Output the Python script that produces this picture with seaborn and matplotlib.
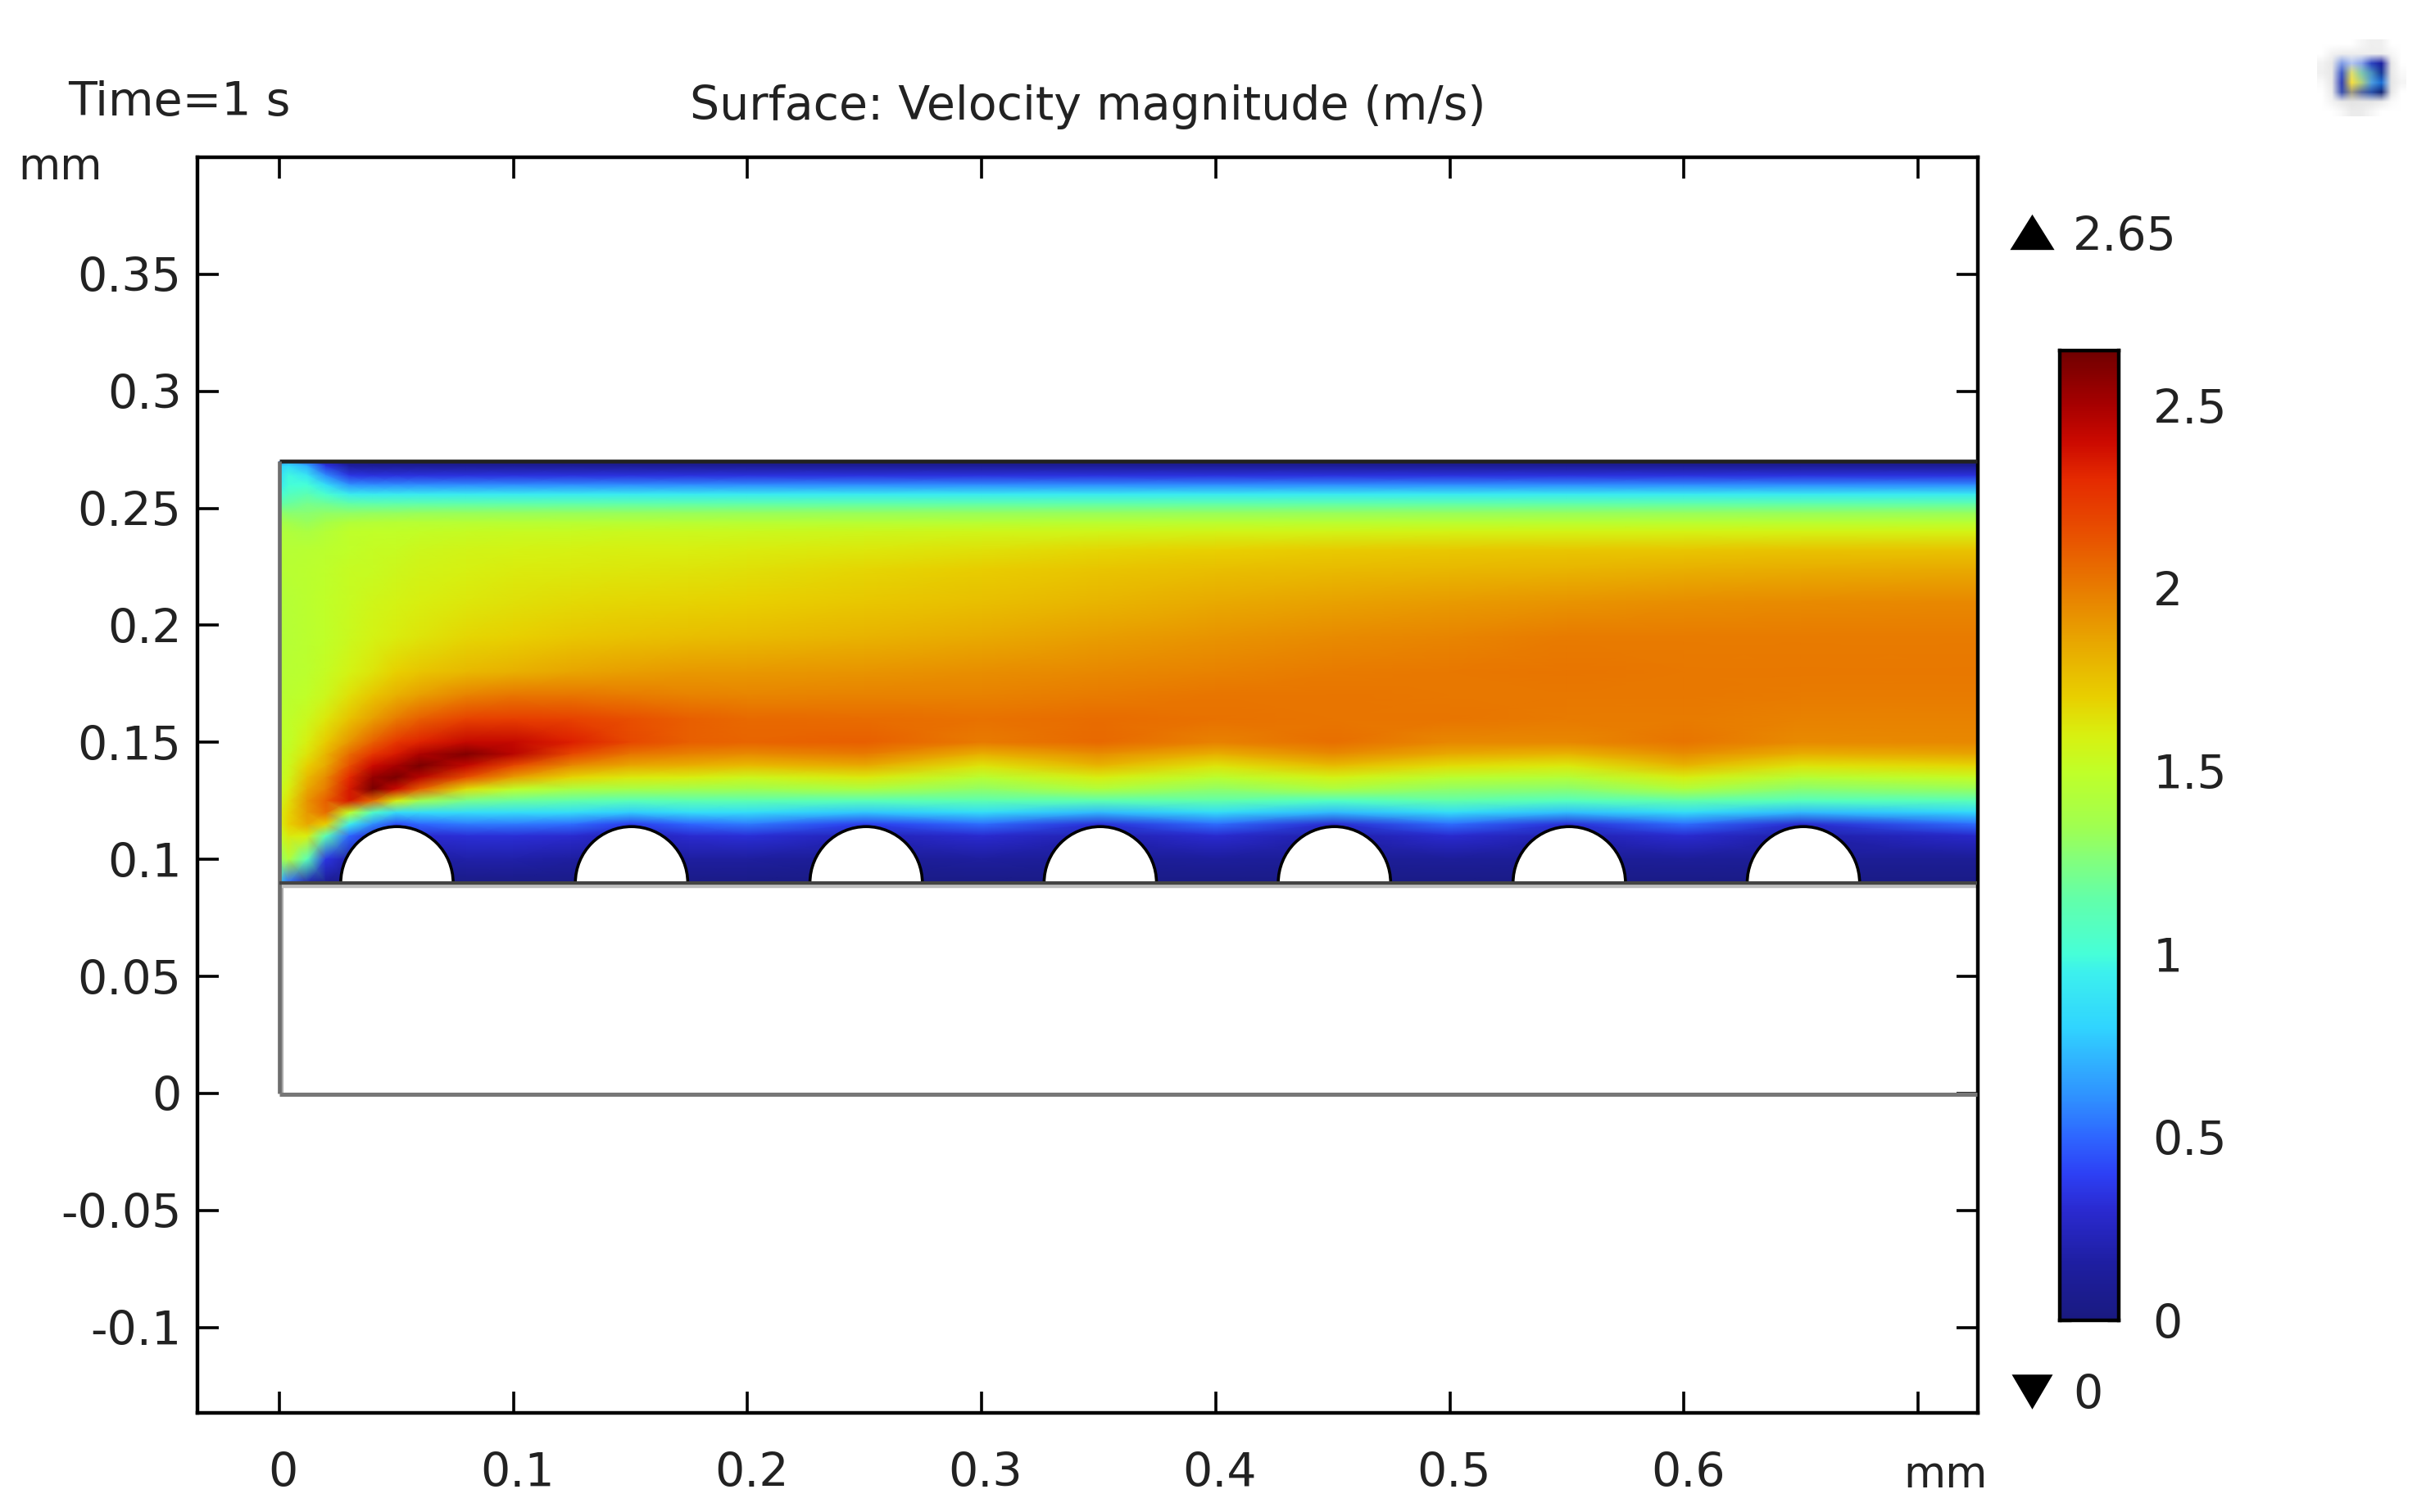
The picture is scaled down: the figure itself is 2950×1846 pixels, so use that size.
import numpy as np
import pandas as pd
import seaborn as sns
import matplotlib.pyplot as plt
from matplotlib.colors import LinearSegmentedColormap, to_rgb
from matplotlib.lines import Line2D
from matplotlib.patches import Wedge
from matplotlib.transforms import ScaledTranslation

W, H = 2950, 1846

# values
x_nodes = [0, .004, .012, .02, .03, .04, .05, .06, .08, .10, .125, .15, .175, .2,
           .25, .3, .35, .4, .45, .5, .55, .6, .65, .725]
y_nodes = [.27, .268, .264, .26, .256, .252, .248, .244, .24, .232, .224, .21, .195,
           .18, .17, .16, .15, .145, .14, .135, .13, .125, .12, .115, .11, .10, .09]
velocity = [
    [.55, .70, .50, .20, .05, .03, .03, .03, .03, .03, .03, .03, .03, .03, .03, .03, .03, .03, .03, .03, .03, .03, .03, .03],
    [.80, .85, .70, .35, .14, .12, .12, .12, .12, .12, .12, .12, .12, .12, .12, .12, .12, .12, .12, .12, .12, .12, .12, .12],
    [.85, .98, .90, .60, .36, .34, .34, .34, .34, .34, .34, .34, .34, .34, .34, .34, .34, .34, .34, .34, .34, .34, .34, .34],
    [.90, 1.0, 1.0, .85, .62, .60, .60, .60, .60, .60, .60, .60, .60, .60, .60, .60, .60, .60, .60, .60, .60, .60, .60, .60],
    [1.0, 1.08, 1.12, 1.02, .93, .92, .92, .92, .92, .92, .92, .92, .92, .92, .92, .92, .92, .92, .92, .92, .92, .92, .92, .92],
    [1.15, 1.18, 1.22, 1.20, 1.15, 1.14, 1.14, 1.14, 1.14, 1.14, 1.14, 1.14, 1.14, 1.14, 1.14, 1.14, 1.14, 1.14, 1.14, 1.14, 1.14, 1.14, 1.14, 1.14],
    [1.30, 1.28, 1.28, 1.30, 1.30, 1.31, 1.31, 1.32, 1.32, 1.32, 1.32, 1.32, 1.32, 1.32, 1.32, 1.32, 1.32, 1.32, 1.32, 1.32, 1.32, 1.32, 1.32, 1.32],
    [1.38, 1.36, 1.33, 1.38, 1.43, 1.44, 1.45, 1.45, 1.45, 1.45, 1.45, 1.45, 1.45, 1.45, 1.45, 1.45, 1.46, 1.46, 1.46, 1.46, 1.46, 1.46, 1.46, 1.46],
    [1.42, 1.42, 1.40, 1.44, 1.49, 1.50, 1.50, 1.51, 1.52, 1.53, 1.53, 1.54, 1.54, 1.54, 1.55, 1.56, 1.56, 1.57, 1.57, 1.58, 1.58, 1.58, 1.58, 1.58],
    [1.44, 1.45, 1.46, 1.48, 1.50, 1.52, 1.53, 1.55, 1.57, 1.58, 1.59, 1.60, 1.60, 1.61, 1.63, 1.65, 1.68, 1.70, 1.72, 1.73, 1.74, 1.74, 1.75, 1.75],
    [1.44, 1.46, 1.47, 1.49, 1.52, 1.53, 1.55, 1.57, 1.59, 1.61, 1.62, 1.63, 1.64, 1.65, 1.68, 1.71, 1.74, 1.76, 1.78, 1.79, 1.80, 1.82, 1.83, 1.84],
    [1.43, 1.45, 1.47, 1.50, 1.53, 1.56, 1.58, 1.60, 1.63, 1.65, 1.67, 1.68, 1.69, 1.70, 1.73, 1.76, 1.80, 1.84, 1.87, 1.89, 1.92, 1.94, 1.95, 1.96],
    [1.43, 1.45, 1.47, 1.50, 1.54, 1.58, 1.61, 1.64, 1.68, 1.70, 1.73, 1.75, 1.77, 1.78, 1.81, 1.84, 1.88, 1.92, 1.95, 1.97, 2.00, 2.00, 2.00, 2.00],
    [1.44, 1.46, 1.48, 1.52, 1.58, 1.64, 1.70, 1.74, 1.79, 1.82, 1.86, 1.88, 1.90, 1.90, 1.92, 1.94, 1.96, 1.98, 2.00, 2.01, 2.02, 2.01, 2.01, 2.01],
    [1.45, 1.47, 1.50, 1.55, 1.65, 1.74, 1.82, 1.88, 1.98, 2.02, 2.02, 2.00, 1.98, 1.97, 1.98, 1.98, 2.00, 2.02, 2.02, 2.01, 2.01, 2.01, 2.00, 2.00],
    [1.47, 1.49, 1.54, 1.63, 1.75, 1.88, 2.00, 2.10, 2.20, 2.22, 2.20, 2.15, 2.10, 2.06, 2.05, 2.03, 2.05, 2.03, 2.02, 2.02, 2.00, 2.00, 1.98, 1.98],
    [1.48, 1.50, 1.60, 1.72, 1.92, 2.10, 2.25, 2.32, 2.42, 2.42, 2.33, 2.18, 2.10, 2.08, 2.10, 2.00, 2.06, 1.98, 2.04, 1.96, 1.96, 2.02, 1.95, 1.96],
    [1.49, 1.52, 1.64, 1.80, 2.05, 2.25, 2.35, 2.48, 2.60, 2.45, 2.18, 2.02, 1.98, 1.95, 2.00, 1.82, 1.94, 1.82, 1.95, 1.84, 1.80, 1.94, 1.82, 1.86],
    [1.50, 1.54, 1.70, 1.85, 2.15, 2.40, 2.50, 2.62, 2.42, 2.18, 1.95, 1.85, 1.82, 1.78, 1.84, 1.64, 1.80, 1.64, 1.78, 1.66, 1.62, 1.80, 1.64, 1.68],
    [1.50, 1.56, 1.78, 1.95, 2.30, 2.55, 2.62, 2.45, 2.15, 1.88, 1.68, 1.62, 1.60, 1.55, 1.62, 1.46, 1.60, 1.47, 1.58, 1.47, 1.44, 1.60, 1.45, 1.52],
    [1.52, 1.60, 1.85, 2.00, 2.35, 2.62, 2.40, 2.10, 1.65, 1.50, 1.40, 1.38, 1.36, 1.35, 1.40, 1.30, 1.42, 1.30, 1.40, 1.30, 1.28, 1.42, 1.28, 1.32],
    [1.55, 1.65, 1.92, 2.10, 2.35, 2.05, 1.60, 1.35, 1.22, 1.18, 1.14, 1.10, 1.12, 1.12, 1.10, 1.12, 1.12, 1.14, 1.06, 1.14, 1.08, 1.14, 1.08, 1.10],
    [1.60, 1.68, 1.90, 2.05, 1.50, 1.05, .85, .85, .85, .85, .85, .78, .85, .85, .76, .85, .72, .85, .72, .85, .74, .85, .72, .82],
    [1.58, 1.70, 1.85, 1.70, .95, .60, .42, .50, .55, .55, .52, .38, .50, .55, .38, .52, .32, .52, .30, .52, .32, .52, .30, .52],
    [1.50, 1.62, 1.60, 1.10, .50, .30, .25, .30, .32, .32, .30, .22, .30, .32, .22, .30, .20, .30, .18, .30, .20, .30, .18, .28],
    [1.30, 1.42, 1.10, .35, .18, .15, .12, .15, .18, .18, .15, .10, .15, .14, .10, .14, .10, .13, .10, .12, .10, .12, .10, .10],
    [.75, .50, .20, .08, .05, .03, .03, .03, .03, .03, .03, .03, .03, .03, .03, .03, .03, .03, .03, .03, .03, .03, .03, .03],
]
cylinder_x = [.0503, .1505, .2507, .3507, .4507, .551, .651]
cylinder_r = .024
wall_y = .09
top_y = .27

x_ticks = [0, .1, .2, .3, .4, .5, .6, .7]
x_labels = ["0", "0.1", "0.2", "0.3", "0.4", "0.5", "0.6", ""]
y_ticks = [-.1, -.05, 0, .05, .1, .15, .2, .25, .3, .35]
y_labels = ["-0.1", "-0.05", "0", "0.05", "0.1", "0.15", "0.2", "0.25", "0.3", "0.35"]
cbar_ticks = [0, .5, 1, 1.5, 2, 2.5]
cbar_labels = ["0", "0.5", "1", "1.5", "2", "2.5"]
v_max = 2.65

cmap_values = [0, .15, .3, .4, .5, .6, .7, .8, .95, 1.0, 1.15, 1.25, 1.35, 1.5, 1.6, 1.7,
               1.85, 2.0, 2.15, 2.3, 2.4, 2.5, 2.65]
cmap_colors = ["#191a80", "#1e1ea0", "#2a2ad0", "#2d40f5", "#2e66ff", "#2f8eff", "#30b0ff",
               "#30d4ff", "#3cf0ee", "#46ffd8", "#62ffaa", "#80ff80", "#a0ff50", "#c0ff28",
               "#d8f010", "#e8d000", "#e8a800", "#e87c00", "#e85000", "#e52a00", "#cc0a00",
               "#a80000", "#700000"]

icon_colors = [
    ["#ffffff", "#ffffff", "#ffffff", "#ffffff", "#f6f6f6", "#efefef", "#f0f0f0", "#ffffff", "#ffffff"],
    ["#ffffff", "#f3f3f3", "#eeeeee", "#eeeeee", "#eeeeee", "#eeeeee", "#eeeeee", "#f6f6f6", "#ffffff"],
    ["#f3f3f3", "#e8e8e8", "#7f9be6", "#b4c6f0", "#8aa4ea", "#2c44c0", "#1a1fa0", "#e8e8e8", "#ffffff"],
    ["#f0f0f0", "#e8e8e8", "#3c58c8", "#e0e070", "#80c8b0", "#4a90c0", "#183a98", "#e8e8e8", "#fafafa"],
    ["#fafafa", "#e8e8e8", "#3040b8", "#f8e040", "#b0d080", "#50a0e0", "#1a70d8", "#e6e6e6", "#f5f5f5"],
    ["#ffffff", "#ececec", "#3a50b0", "#a09a80", "#5a6aa0", "#2a50a8", "#142878", "#e8e8e8", "#ffffff"],
    ["#ffffff", "#f4f4f4", "#e8e8e8", "#e4e4e4", "#e6e6e6", "#e6e6e6", "#ececec", "#fafafa", "#ffffff"],
    ["#ffffff", "#ffffff", "#f8f8f8", "#ebebeb", "#ececec", "#f6f6f6", "#ffffff", "#ffffff", "#ffffff"],
]

sns.set_style("ticks")
plt.rcParams["font.family"] = "DejaVu Sans"
plt.rcParams["text.color"] = "#222222"


def frac(x0, y0, x1, y1):
    return [x0 / W, 1 - y1 / H, (x1 - x0) / W, (y1 - y0) / H]


def fig_xy(x, y):
    return x / W, 1 - y / H


speed = LinearSegmentedColormap.from_list(
    "speed", [(v / v_max, c) for v, c in zip(cmap_values, cmap_colors)], N=512)

fig = plt.figure(figsize=(W / 100, H / 100), dpi=100)
ax = fig.add_axes(frac(241, 192, 2414, 1725))
cax = fig.add_axes(frac(2514, 428, 2586, 1612))

# flow field
X, Y = np.meshgrid(x_nodes, y_nodes)
ax.pcolormesh(X, Y, np.array(velocity), shading="gouraud", cmap=speed, vmin=0, vmax=v_max, zorder=1)
for cx in cylinder_x:
    ax.add_patch(Wedge((cx, wall_y), cylinder_r, 0, 180, facecolor="white",
                       edgecolor="black", linewidth=2.6, zorder=2))

ax.plot([0, .725], [top_y, top_y], color="#222222", lw=3.4, zorder=3, solid_capstyle="butt")
ax.plot([.0012, .0012], [0, wall_y], color="#a8a8a8", lw=2.8, zorder=2, solid_capstyle="butt")
ax.plot([0, 0], [0, top_y], color="#6e6e6e", lw=3.4, zorder=3, solid_capstyle="butt")
ax.plot([0, .725], [wall_y - .0016, wall_y - .0016], color="#bdbdbd", lw=3.2, zorder=2, solid_capstyle="butt")
ax.plot([0, .725], [wall_y, wall_y], color="#444444", lw=3.0, zorder=3, solid_capstyle="butt")
ax.plot([0, .725], [-.0005, -.0005], color="#777777", lw=3.6, zorder=3, solid_capstyle="butt")

ax.set_xlim(-.0349, .7255)
ax.set_ylim(-.1365, .4)
ax.set_xticks(x_ticks, x_labels)
ax.set_yticks(y_ticks, y_labels)
ax.tick_params(axis="both", direction="in", length=19, width=2.6, color="black",
               labelsize=41, labelcolor="#222222", top=True, right=True)
ax.tick_params(axis="x", pad=34)
ax.tick_params(axis="y", pad=14)
shift = ScaledTranslation(5 / 100, 0, fig.dpi_scale_trans)
for lab in ax.get_xticklabels():
    lab.set_transform(lab.get_transform() + shift)
for spine in ax.spines.values():
    spine.set_linewidth(3.2)
    spine.set_color("black")

# colour legend
cbar_levels = np.linspace(v_max, 0, 512).reshape(-1, 1)
sns.heatmap(pd.DataFrame(cbar_levels), ax=cax, cmap=speed, vmin=0, vmax=v_max, cbar=False,
            xticklabels=False, yticklabels=False)
n_levels = len(cbar_levels)
cax.set_yticks([(v_max - v) / v_max * n_levels for v in cbar_ticks], cbar_labels)
cax.set_xticks([])
cax.tick_params(axis="y", direction="in", length=10, width=2.4, color="black", left=True, right=True,
                labelleft=False, labelright=True, labelsize=41, labelcolor="#222222", pad=30, rotation=0)
for spine in cax.spines.values():
    spine.set_visible(True)
    spine.set_linewidth(3.2)
    spine.set_color("black")

# text around the plot
fig.text(*fig_xy(83, 126), "Time=1 s", fontsize=41, ha="left", va="center")
fig.text(*fig_xy(1328, 130), "Surface: Velocity magnitude (m/s)", fontsize=41, ha="center", va="center")
fig.text(*fig_xy(22, 204), "mm", fontsize=38, ha="left", va="center")
fig.text(*fig_xy(2323, 1801), "mm", fontsize=38, ha="left", va="center")
fig.text(*fig_xy(2530, 290), "2.65", fontsize=41, ha="left", va="center")
fig.text(*fig_xy(2530, 1704), "0", fontsize=41, ha="left", va="center")

up_tri = [(-1, -.8), (1, -.8), (0, .8)]
down_tri = [(-1, .85), (1, .85), (0, -.85)]
fig.add_artist(Line2D([2480 / W], [1 - 283 / H], marker=up_tri, ms=39, color="black", mew=0,
                      transform=fig.transFigure))
fig.add_artist(Line2D([2480 / W], [1 - 1699 / H], marker=down_tri, ms=36, color="black", mew=0,
                      transform=fig.transFigure))

# small logo in the corner
icon_ax = fig.add_axes(frac(2828, 48, 2937, 142))
icon_ax.imshow([[to_rgb(c) for c in row] for row in icon_colors], interpolation="bilinear", aspect="auto")
icon_ax.axis("off")

fig.savefig("out.png", dpi=100)
